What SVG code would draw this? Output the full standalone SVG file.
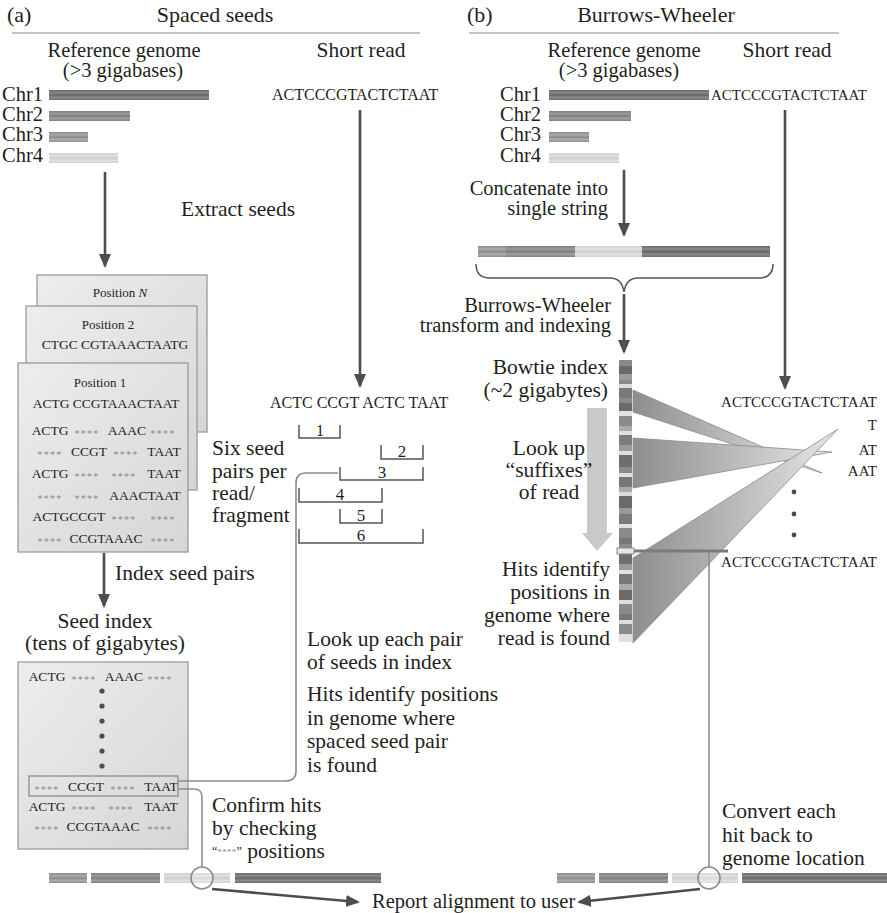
<svg xmlns="http://www.w3.org/2000/svg" width="887" height="913" viewBox="0 0 887 913" font-family="'Liberation Serif', 'DejaVu Serif', serif">
<defs>
<style>
text{font-family:'Liberation Serif','DejaVu Serif',serif;fill:#231f20}
.ttl{font-size:22px}
.lbl{font-size:21.5px}
.lbs{font-size:20.5px}
.rep{font-size:20.5px}
.chr{font-size:20.5px}
.sra{font-size:16px}
.sr{font-size:15px}
.sq{font-size:13.5px}
.pos{font-size:13px}
.st{font-size:10px;fill:#8a8a8a;letter-spacing:1.2px}
.num{font-size:17px}
.arrow{stroke:#4d4d4d;stroke-width:2.6;fill:none}
.conn{stroke:#8c8c8c;stroke-width:1.6;fill:none}
.brk{stroke:#555;stroke-width:1.5;fill:none}
.card{stroke:#9a9a9a;stroke-width:1.3;fill:url(#gCard)}
.wedge{fill:url(#gWedge);stroke:#8a8a8a;stroke-width:0.8}
.dot{fill:#4d4d4d}
</style>
<marker id="ah" viewBox="0 0 14 12" refX="12" refY="6" markerWidth="14" markerHeight="12" markerUnits="userSpaceOnUse" orient="auto">
<path d="M0,0 L14,6 L0,12 z" fill="#4d4d4d"/>
</marker>
<linearGradient id="gCard" x1="0" y1="0" x2="1" y2="1">
<stop offset="0" stop-color="#ededed"/><stop offset="1" stop-color="#d6d6d6"/>
</linearGradient>
<linearGradient id="gWedge" x1="0" y1="0" x2="1" y2="0">
<stop offset="0" stop-color="#8e8e8e"/><stop offset="1" stop-color="#e6e6e6"/>
</linearGradient>
<linearGradient id="gDark" x1="0" y1="0" x2="0" y2="1">
<stop offset="0" stop-color="#6a6a6a"/><stop offset="0.3" stop-color="#8a8a8a"/><stop offset="0.5" stop-color="#666"/><stop offset="0.75" stop-color="#8c8c8c"/><stop offset="1" stop-color="#6a6a6a"/>
</linearGradient>
<linearGradient id="gMid" x1="0" y1="0" x2="0" y2="1">
<stop offset="0" stop-color="#8c8c8c"/><stop offset="0.3" stop-color="#ababab"/><stop offset="0.5" stop-color="#8a8a8a"/><stop offset="0.75" stop-color="#adadad"/><stop offset="1" stop-color="#8c8c8c"/>
</linearGradient>
<linearGradient id="gMid2" x1="0" y1="0" x2="0" y2="1">
<stop offset="0" stop-color="#7e7e7e"/><stop offset="0.3" stop-color="#9c9c9c"/><stop offset="0.5" stop-color="#7c7c7c"/><stop offset="0.75" stop-color="#a0a0a0"/><stop offset="1" stop-color="#7e7e7e"/>
</linearGradient>
<linearGradient id="gLight" x1="0" y1="0" x2="0" y2="1">
<stop offset="0" stop-color="#cfcfcf"/><stop offset="0.3" stop-color="#e2e2e2"/><stop offset="0.5" stop-color="#cdcdcd"/><stop offset="0.75" stop-color="#e0e0e0"/><stop offset="1" stop-color="#cfcfcf"/>
</linearGradient>
</defs>
<rect width="887" height="913" fill="#fff"/>

<!-- ===== Panel (a) ===== -->
<g id="a-title">
<text class="ttl" x="7" y="22">(a)</text>
<text class="ttl" x="215" y="22" text-anchor="middle">Spaced seeds</text>
<line x1="12" y1="33" x2="420" y2="33" stroke="#888" stroke-width="1.2"/>
</g>
<g id="a-refgenome">
<text class="lbs" x="124" y="57" text-anchor="middle">Reference genome</text>
<text class="lbs" x="123" y="77" text-anchor="middle">(&gt;3 gigabases)</text>
<text class="chr" x="2" y="101">Chr1</text>
<text class="chr" x="2" y="121">Chr2</text>
<text class="chr" x="2" y="141">Chr3</text>
<text class="chr" x="2" y="162">Chr4</text>
<rect x="49" y="90" width="160" height="10" fill="url(#gDark)"/>
<rect x="49" y="111" width="81" height="10" fill="url(#gMid2)"/>
<rect x="49" y="132" width="39" height="10" fill="url(#gMid)"/>
<rect x="49" y="153" width="69" height="10" fill="url(#gLight)"/>
</g>
<g id="a-shortread">
<text class="lbl" x="361" y="57" text-anchor="middle">Short read</text>
<text class="sra" x="272" y="100">ACTCCCGTACTCTAAT</text>
</g>
<g id="a-extract">
<text class="lbl" x="181" y="216">Extract seeds</text>
</g>
<g id="a-cards">
<rect class="card" x="37" y="275" width="170" height="157"/>
<text class="pos" x="120" y="297" text-anchor="middle">Position <tspan font-style="italic">N</tspan></text>
<rect class="card" x="26" y="306" width="171" height="184"/>
<text class="pos" x="108" y="329" text-anchor="middle">Position 2</text>
<text class="sq" x="115" y="349" text-anchor="middle">CTGC CGTAAACTAATG</text>
<rect class="card" x="18" y="363" width="170" height="189"/>
<text class="pos" x="100" y="387" text-anchor="middle">Position 1</text>
<text class="sq" x="106" y="408" text-anchor="middle">ACTG CCGTAAACTAAT</text>
<g text-anchor="middle">
<text class="sq" x="50" y="435">ACTG</text><text class="st" x="87" y="437">****</text><text class="sq" x="127" y="435">AAAC</text><text class="st" x="163" y="437">****</text>
<text class="st" x="50" y="458">****</text><text class="sq" x="89" y="456">CCGT</text><text class="st" x="126" y="458">****</text><text class="sq" x="164" y="456">TAAT</text>
<text class="sq" x="50" y="478">ACTG</text><text class="st" x="87" y="480">****</text><text class="st" x="124" y="480">****</text><text class="sq" x="164" y="478">TAAT</text>
<text class="st" x="50" y="502">****</text><text class="st" x="87" y="502">****</text><text class="sq" x="145" y="500">AAACTAAT</text>
<text class="sq" x="69" y="521">ACTGCCGT</text><text class="st" x="124" y="523">****</text><text class="st" x="163" y="523">****</text>
<text class="st" x="50" y="545">****</text><text class="sq" x="106" y="543">CCGTAAAC</text><text class="st" x="163" y="545">****</text>
</g>
</g>
<g id="a-seedpairs">
<text class="lbl" x="212" y="455">Six seed</text>
<text class="lbl" x="212" y="478">pairs per</text>
<text class="lbl" x="212" y="500">read/</text>
<text class="lbl" x="212" y="522">fragment</text>
<text class="sra" x="270" y="408">ACTC CCGT ACTC TAAT</text>
<path class="brk" d="M299,425 V438 H340 V425"/><text class="num" x="320" y="436" text-anchor="middle">1</text>
<path class="brk" d="M381,445 V459 H423 V445"/><text class="num" x="402" y="457" text-anchor="middle">2</text>
<path class="brk" d="M340,467 V480 H423 V467"/><text class="num" x="382" y="478" text-anchor="middle">3</text>
<path class="brk" d="M299,488 V502 H382 V488"/><text class="num" x="340" y="500" text-anchor="middle">4</text>
<path class="brk" d="M340,509 V523 H382 V509"/><text class="num" x="361" y="521" text-anchor="middle">5</text>
<path class="brk" d="M299,529 V543 H423 V529"/><text class="num" x="361" y="541" text-anchor="middle">6</text>
</g>
<g id="a-indexlabel">
<text class="lbl" x="115" y="580">Index seed pairs</text>
<text class="lbl" x="105" y="628" text-anchor="middle">Seed index</text>
<text class="lbl" x="105" y="650" text-anchor="middle">(tens of gigabytes)</text>
</g>
<g id="a-seedindex">
<rect class="card" x="18" y="662" width="170" height="187"/>
<g text-anchor="middle">
<text class="sq" x="47" y="681">ACTG</text><text class="st" x="84" y="683">****</text><text class="sq" x="124" y="681">AAAC</text><text class="st" x="160" y="683">****</text>
<text class="st" x="47" y="793">****</text><text class="sq" x="86" y="791">CCGT</text><text class="st" x="123" y="793">****</text><text class="sq" x="161" y="791">TAAT</text>
<text class="sq" x="47" y="811">ACTG</text><text class="st" x="84" y="813">****</text><text class="st" x="121" y="813">****</text><text class="sq" x="161" y="811">TAAT</text>
<text class="st" x="47" y="833">****</text><text class="sq" x="103" y="831">CCGTAAAC</text><text class="st" x="160" y="833">****</text>
</g>
<circle class="dot" cx="102" cy="691" r="2.6"/>
<circle class="dot" cx="102" cy="706" r="2.6"/>
<circle class="dot" cx="102" cy="721" r="2.6"/>
<circle class="dot" cx="102" cy="736" r="2.6"/>
<circle class="dot" cx="102" cy="751" r="2.6"/>
<circle class="dot" cx="102" cy="766" r="2.6"/>
<rect x="29" y="776" width="149" height="20" fill="none" stroke="#8c8c8c" stroke-width="1.3"/>
</g>
<g id="a-lookup">
<text class="lbl" x="307" y="646">Look up each pair</text>
<text class="lbl" x="307" y="669">of seeds in index</text>
<text class="lbl" x="307" y="701">Hits identify positions</text>
<text class="lbl" x="307" y="725">in genome where</text>
<text class="lbl" x="307" y="748">spaced seed pair</text>
<text class="lbl" x="307" y="772">is found</text>
</g>
<g id="a-confirm">
<text class="lbl" x="212" y="812">Confirm hits</text>
<text class="lbl" x="212" y="835">by checking</text>
<text class="lbl" x="212" y="858"><tspan font-size="12" dy="-3">“</tspan><tspan font-size="9" fill="#8a8a8a" letter-spacing="0.3">****</tspan><tspan font-size="12">”</tspan><tspan dy="3"> positions</tspan></text>
</g>
<g id="a-bottombar">
<rect x="49" y="873" width="38" height="10" fill="url(#gMid)"/>
<rect x="91" y="873" width="69" height="10" fill="url(#gMid2)"/>
<rect x="164" y="873" width="66" height="10" fill="url(#gLight)"/>
<rect x="235" y="873" width="146" height="10" fill="url(#gDark)"/>
</g>

<!-- ===== Panel (b) ===== -->
<g id="b-title">
<text class="ttl" x="467" y="22">(b)</text>
<text class="ttl" x="656" y="22" text-anchor="middle">Burrows-Wheeler</text>
<line x1="469" y1="33" x2="839" y2="33" stroke="#888" stroke-width="1.2"/>
</g>
<g id="b-refgenome">
<text class="lbs" x="624" y="57" text-anchor="middle">Reference genome</text>
<text class="lbs" x="619" y="77" text-anchor="middle">(&gt;3 gigabases)</text>
<text class="chr" x="500" y="101">Chr1</text>
<text class="chr" x="500" y="121">Chr2</text>
<text class="chr" x="500" y="141">Chr3</text>
<text class="chr" x="500" y="162">Chr4</text>
<rect x="549" y="90" width="160" height="10" fill="url(#gDark)"/>
<rect x="549" y="111" width="82" height="10" fill="url(#gMid2)"/>
<rect x="549" y="132" width="40" height="10" fill="url(#gMid)"/>
<rect x="549" y="153" width="70" height="10" fill="url(#gLight)"/>
</g>
<g id="b-shortread">
<text class="lbl" x="787" y="57" text-anchor="middle">Short read</text>
<text class="sr" x="711" y="100">ACTCCCGTACTCTAAT</text>
</g>
<g id="b-concat">
<text class="lbs" x="608" y="195" text-anchor="end">Concatenate into</text>
<text class="lbs" x="608" y="215" text-anchor="end">single string</text>
<rect x="478" y="246" width="28" height="11" fill="url(#gMid)"/>
<rect x="506" y="246" width="69" height="11" fill="url(#gMid2)"/>
<rect x="575" y="246" width="67" height="11" fill="url(#gLight)"/>
<rect x="642" y="246" width="128" height="11" fill="url(#gDark)"/>
<path d="M476,264 Q476,278 490,278 H610 Q622,278 624,292 Q626,278 638,278 H759 Q773,278 773,264" fill="none" stroke="#555" stroke-width="1.5"/>
</g>
<g id="b-bwt">
<text class="lbs" x="611" y="312" text-anchor="end">Burrows-Wheeler</text>
<text class="lbs" x="611" y="332" text-anchor="end">transform and indexing</text>
</g>
<g id="b-bowtie">
<text class="lbl" x="608" y="374" text-anchor="end">Bowtie index</text>
<text class="lbl" x="608" y="397" text-anchor="end">(~2 gigabytes)</text>
<g id="b-column">
<rect x="619" y="360" width="13" height="282" fill="#8a8a8a"/>
<rect x="619" y="366" width="13" height="8" fill="#6a6a6a"/>
<rect x="619" y="374" width="13" height="6" fill="#9c9c9c"/>
<rect x="619" y="384" width="13" height="4" fill="#dcdcdc"/>
<rect x="619" y="388" width="13" height="10" fill="#7a7a7a"/>
<rect x="619" y="403" width="13" height="8" fill="#6a6a6a"/>
<rect x="619" y="411" width="13" height="5" fill="#e2e2e2"/>
<rect x="619" y="426" width="13" height="5" fill="#aaa"/>
<rect x="619" y="431" width="13" height="4" fill="#e0e0e0"/>
<rect x="619" y="435" width="13" height="10" fill="#7c7c7c"/>
<rect x="619" y="445" width="13" height="6" fill="#9a9a9a"/>
<rect x="619" y="451" width="13" height="4" fill="#ddd"/>
<rect x="619" y="455" width="13" height="12" fill="#6e6e6e"/>
<rect x="619" y="473" width="13" height="4" fill="#e0e0e0"/>
<rect x="619" y="477" width="13" height="10" fill="#777"/>
<rect x="619" y="487" width="13" height="5" fill="#aaa"/>
<rect x="619" y="492" width="13" height="4" fill="#ddd"/>
<rect x="619" y="496" width="13" height="12" fill="#6a6a6a"/>
<rect x="619" y="508" width="13" height="6" fill="#9a9a9a"/>
<rect x="619" y="514" width="13" height="10" fill="#7a7a7a"/>
<rect x="619" y="524" width="13" height="4" fill="#e0e0e0"/>
<rect x="619" y="538" width="13" height="6" fill="#777"/>
<rect x="619" y="554" width="13" height="10" fill="#6e6e6e"/>
<rect x="619" y="564" width="13" height="6" fill="#9a9a9a"/>
<rect x="619" y="570" width="13" height="4" fill="#e0e0e0"/>
<rect x="619" y="574" width="13" height="10" fill="#777"/>
<rect x="619" y="584" width="13" height="6" fill="#aaa"/>
<rect x="619" y="590" width="13" height="10" fill="#6a6a6a"/>
<rect x="619" y="600" width="13" height="4" fill="#ddd"/>
<rect x="619" y="614" width="13" height="6" fill="#777"/>
<rect x="619" y="620" width="13" height="4" fill="#ddd"/>
<rect x="619" y="634" width="13" height="8" fill="#e0e0e0"/>
</g>
</g>
<g id="b-lookup">
<path d="M587,408 H607 V533 H613 L597,551 L582,533 H587 Z" fill="#c9c9c9"/>
<text class="lbl" x="549" y="455" text-anchor="middle">Look up</text>
<text class="lbl" x="549" y="477" text-anchor="middle">“suffixes”</text>
<text class="lbl" x="549" y="499" text-anchor="middle">of read</text>
</g>
<g id="b-hits">
<text class="lbl" x="610" y="576" text-anchor="end">Hits identify</text>
<text class="lbl" x="610" y="599" text-anchor="end">positions in</text>
<text class="lbl" x="610" y="622" text-anchor="end">genome where</text>
<text class="lbl" x="610" y="645" text-anchor="end">read is found</text>
</g>
<g id="b-wedges">
<polygon class="wedge" points="633,390 633,412 822,473"/>
<polygon class="wedge" points="633,438 633,488 832,452"/>
<polygon class="wedge" points="633,558 633,643 838,429"/>
</g>
<g id="b-suffixes">
<text class="sr" x="877" y="407" text-anchor="end">ACTCCCGTACTCTAAT</text>
<text class="sr" x="877" y="430" text-anchor="end">T</text>
<text class="sr" x="877" y="455" text-anchor="end">AT</text>
<text class="sr" x="877" y="476" text-anchor="end">AAT</text>
<circle class="dot" cx="794" cy="492" r="2.4"/>
<circle class="dot" cx="794" cy="514" r="2.4"/>
<circle class="dot" cx="794" cy="535" r="2.4"/>
<text class="sr" x="877" y="567" text-anchor="end">ACTCCCGTACTCTAAT</text>
</g>
<g id="b-hit">
<rect x="633" y="549.5" width="95" height="3" fill="#7a7a7a"/>
<rect x="617" y="548" width="17" height="6" fill="#e6e6e6" stroke="#888" stroke-width="1"/>
</g>
<g id="b-convert">
<text class="lbl" x="722" y="818">Convert each</text>
<text class="lbl" x="722" y="842">hit back to</text>
<text class="lbl" x="722" y="865">genome location</text>
</g>
<g id="b-bottombar">
<rect x="557" y="873" width="38" height="10" fill="url(#gMid)"/>
<rect x="599" y="873" width="69" height="10" fill="url(#gMid2)"/>
<rect x="672" y="873" width="66" height="10" fill="url(#gLight)"/>
<rect x="742" y="873" width="145" height="10" fill="url(#gDark)"/>
</g>
<g id="report">
<text class="rep" x="372" y="908">Report alignment to user</text>
</g>

<!-- ===== Connectors ===== -->
<g id="connectors">
<line class="arrow" x1="105" y1="172" x2="105" y2="266" marker-end="url(#ah)"/>
<line class="arrow" x1="360" y1="110" x2="360" y2="386" marker-end="url(#ah)"/>
<line class="arrow" x1="104" y1="553" x2="104" y2="606" marker-end="url(#ah)"/>
<line class="arrow" x1="624" y1="170" x2="624" y2="235" marker-end="url(#ah)"/>
<line class="arrow" x1="624" y1="294" x2="624" y2="352" marker-end="url(#ah)"/>
<line class="arrow" x1="785" y1="110" x2="785" y2="388" marker-end="url(#ah)"/>
<path class="conn" d="M338,473 H306 Q296,473 296,483 V771 Q296,781 286,781 H178"/>
<path class="conn" d="M178,789 H194 Q202,789 202,797 V867"/>
<circle cx="202" cy="878" r="11" fill="#fff" fill-opacity="0.25" stroke="#8c8c8c" stroke-width="1.6"/>
<line class="conn" x1="709" y1="553" x2="709" y2="867"/>
<circle cx="709" cy="878" r="11" fill="#fff" fill-opacity="0.25" stroke="#8c8c8c" stroke-width="1.6"/>
<line class="arrow" x1="212" y1="889" x2="358" y2="902" stroke-width="2.2" marker-end="url(#ah)"/>
<line class="arrow" x1="700" y1="889" x2="579" y2="902" stroke-width="2.2" marker-end="url(#ah)"/>
</g>
</svg>
